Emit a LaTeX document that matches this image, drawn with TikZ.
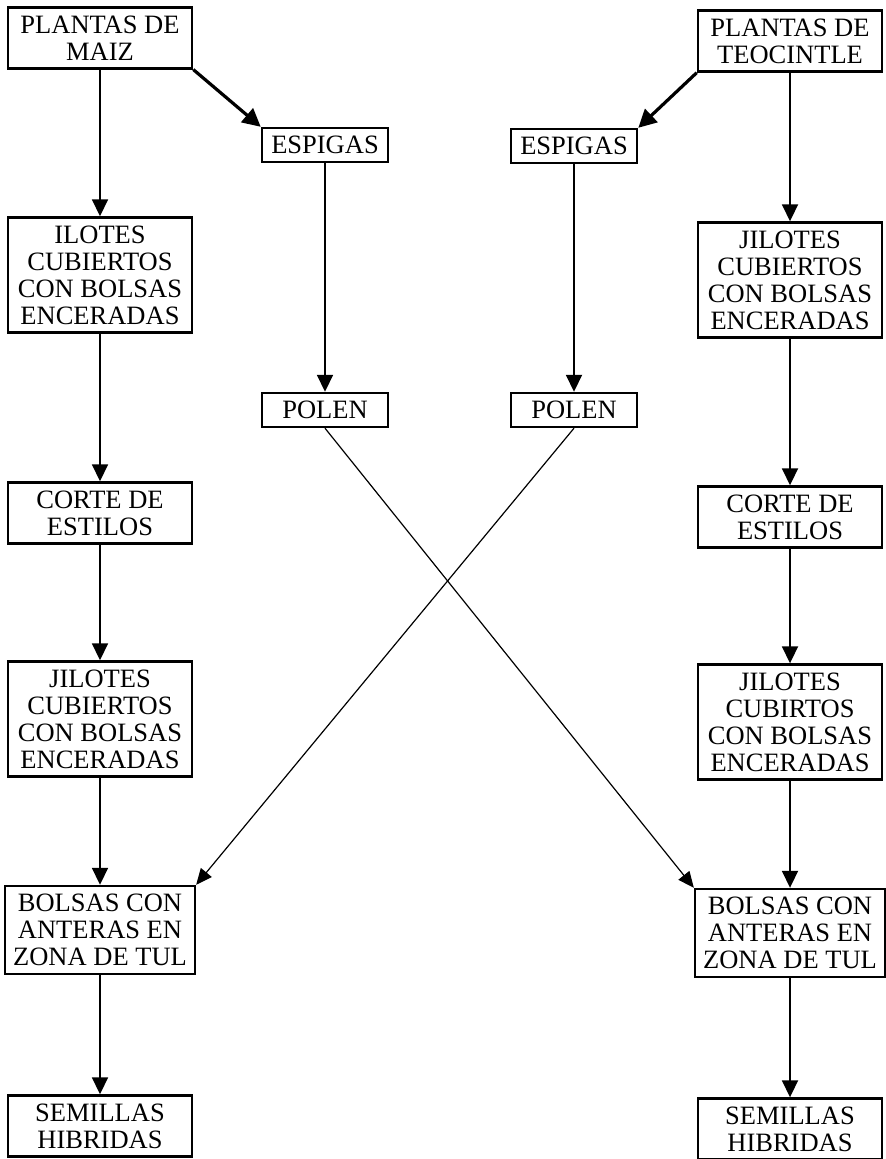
\documentclass[tikz,border=0pt]{standalone}
\usepackage{fontspec}
\setmainfont{Liberation Serif}
\usetikzlibrary{arrows.meta}

\tikzset{
  box/.style={draw, line width=1.3pt, align=center, inner xsep=4pt, inner ysep=4pt,
    font=\fontsize{13.25}{13.5}\selectfont},
  wide/.style={box, minimum width=92pt},
  small/.style={box, minimum width=63pt},
  flow/.style={-{Triangle[length=8.5pt,width=8pt]}, line width=0.9pt},
  cross/.style={-{Triangle[length=8pt,width=7pt]}, line width=0.6pt},
  feed/.style={-{Triangle[length=9pt,width=9pt]}, line width=1.6pt}
}

\begin{document}
\begin{tikzpicture}[x=0.5pt,y=-0.5pt]
    \useasboundingbox (0,0) rectangle (885,1159);
    % Left column: maize
    \node (maiz) [wide] at (100,38) {PLANTAS DE\\MAIZ};
    \node (iloL) [wide] at (100,275) {ILOTES\\CUBIERTOS\\CON BOLSAS\\ENCERADAS};
    \node (corL) [wide] at (100,513) {CORTE DE\\ESTILOS};
    \node (jilL) [wide] at (100,719) {JILOTES\\CUBIERTOS\\CON BOLSAS\\ENCERADAS};
    \node (bolL) [wide] at (100,930) {BOLSAS CON\\ANTERAS EN\\ZONA DE TUL};
    \node (semL) [wide] at (100,1126) {SEMILLAS\\HIBRIDAS};
    % Right column: teocintle
    \node (teo) [wide] at (790,41) {PLANTAS DE\\TEOCINTLE};
    \node (jilR) [wide] at (790,280) {JILOTES\\CUBIERTOS\\CON BOLSAS\\ENCERADAS};
    \node (corR) [wide] at (790,517) {CORTE DE\\ESTILOS};
    \node (cubR) [wide] at (790,722) {JILOTES\\CUBIRTOS\\CON BOLSAS\\ENCERADAS};
    \node (bolR) [wide] at (790,933) {BOLSAS CON\\ANTERAS EN\\ZONA DE TUL};
    \node (semR) [wide] at (790,1129) {SEMILLAS\\HIBRIDAS};
    % Middle: spikes and pollen
    \node (espL) [small] at (325,145) {ESPIGAS};
    \node (espR) [small] at (574,146) {ESPIGAS};
    \node (polL) [small] at (325,410) {POLEN};
    \node (polR) [small] at (574,410) {POLEN};
    % Draw the columns
    \foreach \a/\b in {maiz/iloL, iloL/corL, corL/jilL, jilL/bolL, bolL/semL,
                       teo/jilR, jilR/corR, corR/cubR, cubR/bolR, bolR/semR,
                       espL/polL, espR/polR}
      \draw [flow] (\a) -- (\b);
    \draw [feed] (maiz.south east) -- (espL.north west);
    \draw [feed] (teo.south west) -- (espR.north east);
    % Draw the crossing pollen
    \draw [cross] (polL.south) -- (bolR.north west);
    \draw [cross] (polR.south) -- (bolL.north east);
\end{tikzpicture}
\end{document}
